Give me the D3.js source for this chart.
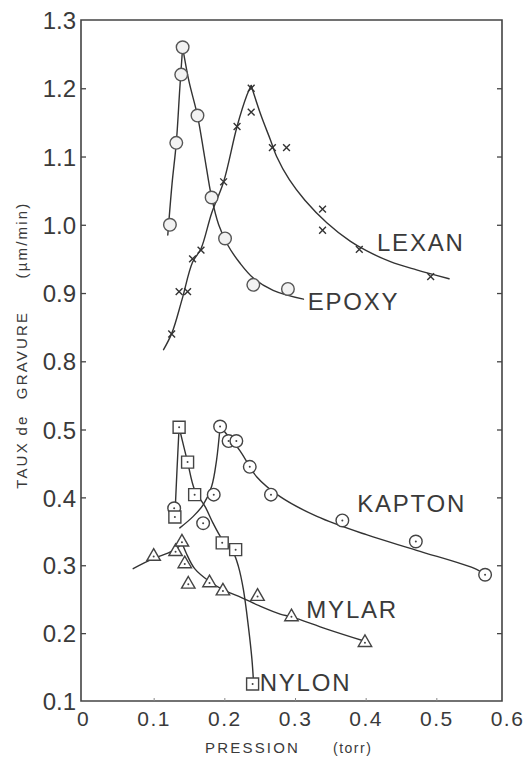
<!DOCTYPE html>
<html lang="fr">
<head>
    <meta charset="UTF-8">
    <title>Taux de gravure vs pression</title>
    <script src="https://d3js.org/d3.v7.min.js"></script>
    <style>
        body { margin: 0; background: #fff; }
        svg { font-family: "Liberation Sans", Arial, sans-serif; }
        .tick text { fill: #3a3a3a; }
    </style>
</head>
<body>
<svg width="529" height="758"></svg>

<script>
    // axis ticks (the y axis is broken between 0.5 and 0.8)
    const xTicks = [0, 0.1, 0.2, 0.3, 0.4, 0.5, 0.6];
    const yTicks = [0.1, 0.2, 0.3, 0.4, 0.5, 0.8, 0.9, 1.0, 1.1, 1.2, 1.3];

    // measured points [pression, taux]
    const epoxyPts = [[0.141,1.26],[0.139,1.22],[0.162,1.16],[0.132,1.12],[0.182,1.04],
        [0.123,1.00],[0.201,0.98],[0.241,0.912],[0.290,0.906]];
    const lexanPts = [[0.238,1.20],[0.238,1.165],[0.218,1.144],[0.268,1.113],[0.288,1.113],
        [0.199,1.063],[0.167,0.963],[0.155,0.950],[0.136,0.902],[0.148,0.902],[0.1255,0.840],
        [0.339,1.023],[0.339,0.992],[0.391,0.964],[0.492,0.924]];
    const kaptonPts = [[0.129,0.384],[0.170,0.362],[0.185,0.404],[0.194,0.513],[0.206,0.483],
        [0.217,0.483],[0.236,0.445],[0.266,0.404],[0.367,0.366],[0.471,0.335],[0.569,0.286]];
    const nylonPts = [[0.136,0.51],[0.148,0.452],[0.158,0.404],[0.130,0.371],[0.197,0.333],
        [0.216,0.323],[0.240,0.125]];
    const mylarPts = [[0.100,0.313],[0.131,0.320],[0.140,0.334],[0.144,0.302],[0.149,0.272],
        [0.179,0.274],[0.198,0.262],[0.247,0.254],[0.295,0.224],[0.399,0.186]];

    // hand drawn curves (one array per branch)
    const epoxyFit = [
        [[0.120,0.985],[0.126,1.06],[0.132,1.12],[0.137,1.20],[0.141,1.26]],
        [[0.141,1.26],[0.150,1.21],[0.162,1.16],[0.172,1.10],[0.182,1.04],[0.192,1.00],
         [0.205,0.970],[0.222,0.944],[0.241,0.922],[0.269,0.904],[0.312,0.891]]
    ];
    const lexanFit = [
        [[0.114,0.817],[0.126,0.842],[0.140,0.89],[0.155,0.945],[0.167,0.965],[0.182,1.017],
         [0.199,1.063],[0.218,1.144],[0.232,1.19],[0.238,1.204]],
        [[0.238,1.204],[0.252,1.16],[0.265,1.125],[0.274,1.10],[0.292,1.066],[0.314,1.036],
         [0.345,1.003],[0.378,0.976],[0.401,0.962],[0.435,0.946],[0.472,0.934],[0.518,0.921]]
    ];
    const kaptonFit = [
        [[0.137,0.355],[0.156,0.372],[0.170,0.389],[0.182,0.416],[0.189,0.455],[0.194,0.513]],
        [[0.194,0.513],[0.201,0.496],[0.222,0.469],[0.246,0.430],[0.279,0.401],[0.331,0.372],
         [0.401,0.345],[0.472,0.322],[0.557,0.294],[0.569,0.286]]
    ];
    const nylonFit = [
        [[0.130,0.371],[0.133,0.44],[0.136,0.51]],
        [[0.136,0.51],[0.148,0.452],[0.158,0.411],[0.173,0.386],[0.184,0.362],[0.197,0.338],
         [0.213,0.318],[0.220,0.298],[0.227,0.264],[0.234,0.210],[0.239,0.162],[0.241,0.133]]
    ];
    const mylarFit = [
        [[0.071,0.295],[0.100,0.31],[0.120,0.318],[0.133,0.325],[0.140,0.333]],
        [[0.140,0.333],[0.146,0.318],[0.158,0.295],[0.179,0.276],[0.198,0.264],[0.225,0.252],
         [0.250,0.240],[0.279,0.228],[0.295,0.224],[0.345,0.206],[0.399,0.188]]
    ];

    const labels = [
        {text: "LEXAN", x: 0.416, y: 0.962},
        {text: "EPOXY", x: 0.318, y: 0.875},
        {text: "KAPTON", x: 0.388, y: 0.378},
        {text: "MYLAR", x: 0.316, y: 0.222},
        {text: "NYLON", x: 0.250, y: 0.115}
    ];

    const ink = "#333";
    const svg = d3.select("svg");

    const x = d3.scaleLinear().domain([0, 0.6]).range([83, 507]);
    const y = d3.scaleLinear().domain([0.1, 0.5, 0.8, 1.3]).range([701, 429.5, 361.3, 20]);
    const frameRight = 502;

    // frame
    svg.append("path")
        .attr("d", `M${x(0) - 2},${y(1.3)}H${frameRight}V${y(0.1)}H${x(0) - 2}Z`)
        .attr("fill", "none").attr("stroke", "#444").attr("stroke-width", 1.6);

    // left axis
    const gy = svg.append("g").attr("transform", `translate(${x(0) - 2},0)`)
        .call(d3.axisLeft(y).tickValues(yTicks).tickSize(-5).tickPadding(5)
            .tickFormat(d3.format(".1f")));
    gy.select(".domain").remove();
    gy.selectAll("line").attr("stroke", "#444").attr("stroke-width", 1.3);
    gy.selectAll("text").attr("font-size", 24).attr("dy", "0.36em");
    gy.selectAll(".tick").filter(d => d === 0.1 || d === 1.3).select("line").remove();

    // right axis, ticks only
    const gr = svg.append("g").attr("transform", `translate(${frameRight},0)`)
        .call(d3.axisRight(y).tickValues(yTicks.filter(d => d > 0.1 && d < 1.3))
            .tickSize(-5).tickFormat(""));
    gr.select(".domain").remove();
    gr.selectAll("line").attr("stroke", "#444").attr("stroke-width", 1.3);

    // bottom axis
    const gx = svg.append("g").attr("transform", `translate(0,${y(0.1)})`)
        .call(d3.axisBottom(x).tickValues(xTicks).tickSize(-3).tickPadding(10)
            .tickFormat(d => d === 0 ? "0" : d3.format(".1f")(d)));
    gx.select(".domain").remove();
    gx.selectAll("line").attr("stroke", "#888").attr("stroke-width", 1);
    gx.selectAll(".tick").filter(d => d === 0 || d === 0.6).select("line").remove();
    gx.selectAll("text").attr("font-size", 21).attr("letter-spacing", 1.5);

    // axis titles
    const yTitle = [["TAUX", 465], ["de", 425], ["GRAVURE", 355], ["(\u00b5m/min)", 240]];
    svg.append("g").selectAll("text").data(yTitle).enter().append("text")
        .attr("transform", d => `translate(27,${d[1]}) rotate(-90)`)
        .attr("text-anchor", "middle")
        .attr("font-size", 15).attr("letter-spacing", 2.2)
        .attr("fill", "#3a3a3a")
        .text(d => d[0]);

    svg.append("text").attr("x", 205).attr("y", 753)
        .attr("font-size", 15).attr("letter-spacing", 2.2).attr("fill", "#3a3a3a")
        .text("PRESSION");
    svg.append("text").attr("x", 333).attr("y", 753)
        .attr("font-size", 14).attr("letter-spacing", 1.5).attr("fill", "#3a3a3a")
        .text("(torr)");

    // curves
    const line = d3.line().x(d => x(d[0])).y(d => y(d[1])).curve(d3.curveCatmullRom.alpha(0.5));
    const fits = [epoxyFit, lexanFit, kaptonFit, nylonFit, mylarFit];
    const gl = svg.append("g").attr("fill", "none").attr("stroke", ink)
        .attr("stroke-width", 1.4).attr("stroke-linejoin", "round").attr("stroke-linecap", "round");
    fits.forEach(fit => {
        gl.selectAll(null).data(fit).enter().append("path").attr("d", line);
    });

    // markers
    const pos = d => `translate(${x(d[0])},${y(d[1])})`;
    const circle = d3.symbol().type(d3.symbolCircle).size(Math.PI * 6.3 * 6.3);
    const square = d3.symbol().type(d3.symbolSquare).size(12 * 12);
    const triangle = d3.symbol().type(d3.symbolTriangle).size(78);
    const cross = "M-3.4,-3.4L3.4,3.4M-3.4,3.4L3.4,-3.4";

    function markers(data, d, fill, stroke, dot) {
        const g = svg.append("g");
        g.selectAll("path").data(data).enter().append("path")
            .attr("transform", pos).attr("d", d)
            .attr("fill", fill).attr("stroke", stroke).attr("stroke-width", 1.4);
        if (dot) {
            g.selectAll("circle").data(data).enter().append("circle")
                .attr("transform", pos).attr("r", 1).attr("fill", stroke);
        }
    }

    markers(epoxyPts, circle(), "#f2f2f2", "#555", false);
    markers(lexanPts, cross, "none", "#333", false);
    markers(kaptonPts, circle(), "#fff", "#444", true);
    markers(nylonPts, square(), "#fff", "#444", true);
    markers(mylarPts, triangle(), "#fff", "#444", true);

    // series names
    svg.append("g").selectAll("text").data(labels).enter().append("text")
        .attr("x", d => x(d.x)).attr("y", d => y(d.y))
        .attr("font-size", 24).attr("letter-spacing", 1.8).attr("fill", "#3a3a3a")
        .text(d => d.text);
</script>
</body>
</html>
